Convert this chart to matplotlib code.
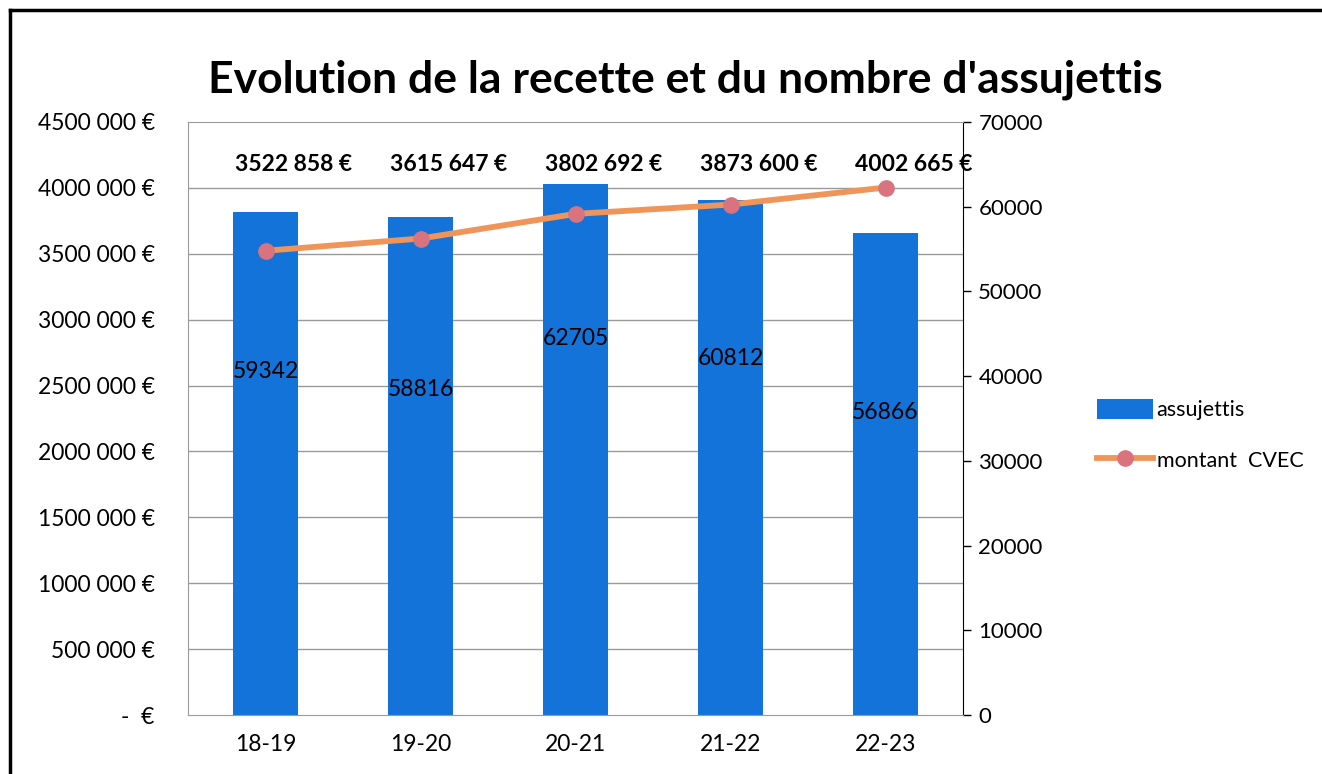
import numpy as np
import matplotlib
matplotlib.use("Agg")
import matplotlib.pyplot as plt
from matplotlib.lines import Line2D

# Chart data
seasons = ["18-19", "19-20", "20-21", "21-22", "22-23"]
assujettis = [59342, 58816, 62705, 60812, 56866]
montant_cvec = [3522858, 3615647, 3802692, 3873600, 4002665]

# where the bar value labels sit (in assujettis units), as in the source
bar_label_y = [40490, 38365, 44500, 42140, 35650]

BAR_COLOR = '#1473D9'
LINE_COLOR = '#F0955A'
MARKER_COLOR = '#D9737E'

plt.rcParams['font.family'] = ['Lato', 'DejaVu Sans']


def euro_fmt(v):
    """Excel-style accounting euro format."""
    v = int(round(v))
    if v == 0:
        return "-  €"
    if v >= 1000:
        return f"{v // 1000} {v % 1000:03d} €"
    return f"{v} €"


fig = plt.figure(figsize=(13.22, 7.74), dpi=100)
fig.patch.set_facecolor('white')

ax_bar = fig.add_axes([188 / 1322, 1 - 715 / 774, (963 - 188) / 1322, (715 - 122) / 774])
ax_line = ax_bar.twinx()

x = np.arange(len(seasons))

# Bars: number of assujettis on the right-hand scale
ax_bar.bar(x, assujettis, width=0.42, color=BAR_COLOR, zorder=2, label='assujettis')
ax_bar.set_ylim(0, 70000)
ax_bar.set_xlim(-0.5, len(seasons) - 0.5)
ax_bar.set_yticks(np.arange(0, 70001, 10000))
ax_bar.yaxis.tick_right()
ax_bar.tick_params(axis='y', which='major', direction='out', length=6, width=1,
                   pad=5, labelsize=16, colors='black')
# gridlines follow the left (euro) scale
ax_bar.set_yticks(np.linspace(0, 70000, 10), minor=True)
ax_bar.tick_params(axis='y', which='minor', length=0)
ax_bar.grid(True, axis='y', which='minor', color='#9a9a9a', linewidth=1)
ax_bar.set_axisbelow(True)

ax_bar.set_xticks(x)
ax_bar.set_xticklabels(seasons)
ax_bar.tick_params(axis='x', length=0, pad=14, labelsize=16.5)

for sp in ['left', 'top', 'bottom']:
    ax_bar.spines[sp].set_color('#9a9a9a')
ax_bar.spines['right'].set_color('black')

for i, v in enumerate(assujettis):
    ax_bar.text(x[i], bar_label_y[i], str(v), ha='center', va='center',
                fontsize=16.5, color='black', zorder=3)

# Line: montant CVEC on the left-hand scale
ax_line.plot(x, montant_cvec, color=LINE_COLOR, linewidth=4.2, marker='o',
             markersize=11, markerfacecolor=MARKER_COLOR, markeredgecolor=MARKER_COLOR,
             label='montant  CVEC', zorder=4)
ax_line.set_ylim(0, 4500000)
ax_line.set_yticks(np.arange(0, 4500001, 500000))
ax_line.set_yticklabels([euro_fmt(v) for v in np.arange(0, 4500001, 500000)])
ax_line.yaxis.tick_left()
ax_line.tick_params(axis='y', length=0, pad=24, labelsize=16.5)
for sp in ax_line.spines.values():
    sp.set_visible(False)

for i, v in enumerate(montant_cvec):
    ax_line.annotate(euro_fmt(v), xy=(x[i], 0.9275), xycoords=('data', 'axes fraction'),
                     xytext=(20, 0), textcoords='offset points', ha='center', va='center',
                     fontsize=16.5, fontweight='bold', color='black', annotation_clip=False)

# Title
fig.text(685 / 1322, 1 - 80 / 774, "Evolution de la recette et du nombre d'assujettis",
         ha='center', va='center', fontsize=32, fontweight='bold', color='black')

# Legend
h1, l1 = ax_bar.get_legend_handles_labels()
h2, l2 = ax_line.get_legend_handles_labels()
fig.legend(h1 + h2, l1 + l2, loc='center left', bbox_to_anchor=(1078 / 1322, 1 - 435 / 774),
           frameon=False, fontsize=15.5, handlelength=2.6, handleheight=1.0,
           handletextpad=0.15, labelspacing=1.35)

# scanned-page frame on the top and left edges
fig.add_artist(Line2D([10 / 1322, 1], [1 - 10 / 774, 1 - 10 / 774], color='black', linewidth=2.5))
fig.add_artist(Line2D([10 / 1322, 10 / 1322], [0, 1 - 10 / 774], color='black', linewidth=2.5))

fig.savefig('out.png', dpi=100)
